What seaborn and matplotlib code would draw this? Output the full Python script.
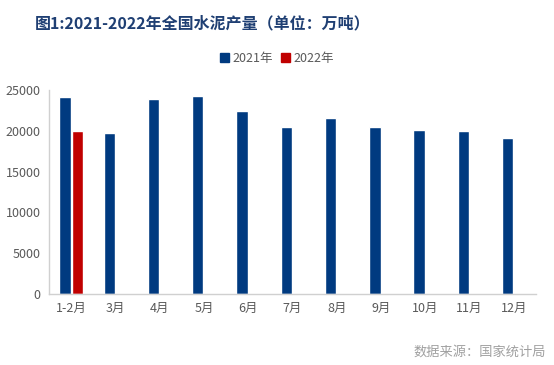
import matplotlib
import matplotlib.pyplot as plt
import pandas as pd
import seaborn as sns

months = ["1-2月", "3月", "4月", "5月", "6月", "7月", "8月", "9月", "10月", "11月", "12月"]
output_2021 = [24100, 19690, 23900, 24250, 22430, 20470, 21570, 20470, 20100, 19970, 19120]
output_2022 = [19990]
series_names = ["2021年", "2022年"]

df = pd.concat([
    pd.DataFrame({"month": months, "value": output_2021, "year": series_names[0]}),
    pd.DataFrame({"month": months[:len(output_2022)], "value": output_2022, "year": series_names[1]}),
])

sns.set_style("white")
matplotlib.rcParams["font.family"] = ["Noto Sans CJK SC", "DejaVu Sans"]
matplotlib.rcParams["axes.unicode_minus"] = False

fig = plt.figure(figsize=(5.54, 3.65), dpi=100)
ax = fig.add_axes([49 / 554, 1 - 294 / 365, 487 / 554, 204 / 365])

sns.barplot(
    data=df, x="month", y="value", hue="year", order=months,
    hue_order=series_names, palette=["#003A80", "#C00000"], saturation=1,
    width=0.56, gap=0.08, ax=ax, legend=False,
)

ax.set_ylim(0, 25000)
ax.set_xlim(-0.5, len(months) - 0.5)
ax.set_yticks(range(0, 25001, 5000))
ax.set_xlabel("")
ax.set_ylabel("")
ax.tick_params(axis="both", labelsize=9, colors="#595959")
ax.tick_params(axis="x", length=0, pad=6)
ax.tick_params(axis="y", length=4, color="#D0D0D0", pad=2)
for s in ["top", "right"]:
    ax.spines[s].set_visible(False)
for s in ["left", "bottom"]:
    ax.spines[s].set_color("#D0D0D0")
    ax.spines[s].set_linewidth(1)

# legend
handles = [plt.Rectangle((0, 0), 1, 1, color=c) for c in ["#003A80", "#C00000"]]
fig.legend(handles, series_names, loc="center", bbox_to_anchor=(0.5, 0.84), ncol=2,
           frameon=False, fontsize=9, handlelength=0.7, handleheight=0.7,
           handletextpad=0.3, columnspacing=0.6, labelcolor="#595959")

fig.text(0.063, 0.937, "图1:2021-2022年全国水泥产量（单位：万吨）", fontsize=11.5,
         fontweight="bold", color="#1F3F73", va="center")
fig.text(0.985, 0.035, "数据来源：国家统计局", fontsize=9.5, color="#A0A0A0",
         ha="right", va="center")

fig.savefig("out.png", dpi=100)
